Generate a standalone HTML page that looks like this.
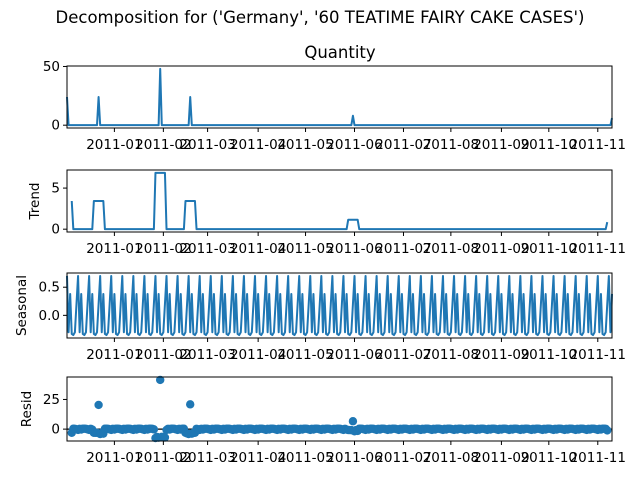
<!DOCTYPE html>
<html><head><meta charset="utf-8"><style>
body{margin:0;background:#fff}
svg text{font-family:"DejaVu Sans","Liberation Sans",sans-serif;fill:#000}
</style></head><body>
<svg id="chart" width="640" height="480" xmlns="http://www.w3.org/2000/svg">
<text x="320" y="23" font-size="16.5" text-anchor="middle">Decomposition for ('Germany', '60 TEATIME FAIRY CAKE CASES')</text>
<text x="340" y="58" font-size="16.5" text-anchor="middle">Quantity</text>
</svg>
<script>
const N = 346;
const spikeIdx = [0, 20, 59, 78, 181, 345];
const spikeVals = [24, 24, 48, 24, 8, 6];
const seasonPattern = [0.7, -0.3, 0.38, -0.33, -0.35, -0.3, 0.2];
const tickIdx = [30, 61, 89, 121, 151, 182, 213, 243, 275, 305, 336];
const tickLabels = ["2011-01","2011-02","2011-03","2011-04","2011-05","2011-06","2011-07","2011-08","2011-09","2011-10","2011-11"];
const p1Ticks = [0, 50], p2Ticks = [0, 5], p3Ticks = [0.0, 0.5], p4Ticks = [0, 25];

const svg = document.getElementById('chart');
const NS = 'http://www.w3.org/2000/svg';
const C = '#1f77b4';
const X0 = 67, X1 = 612;
function xs(i){ return X0 + i/(N-1)*(X1-X0); }

const observed = new Array(N).fill(0);
spikeIdx.forEach((k, j) => { observed[k] = spikeVals[j]; });
const seasonal = observed.map((_, i) => seasonPattern[i % 7]);
const trend = observed.map((_, i) => {
  if (i < 3 || i > N-4) return null;
  let s = 0; for (let k = i-3; k <= i+3; k++) s += observed[k]; return s/7;
});
const resid = observed.map((v, i) => trend[i] === null ? null : v - trend[i] - seasonal[i]);

function el(tag, attrs, parent){
  const e = document.createElementNS(NS, tag);
  for (const k in attrs) e.setAttribute(k, attrs[k]);
  (parent || svg).appendChild(e); return e;
}

function panel(name, top, bot, data, ticks, ylabel, lx, kind, fmt){
  const vals = data.filter(v => v !== null);
  let mn = Math.min(...vals), mx = Math.max(...vals);
  const m = (mx - mn)*0.05; mn -= m; mx += m;
  const ys = v => bot - (v - mn)/(mx - mn)*(bot - top);
  const g = el('g', {});
  
  
  if (kind === 'line') {
    let d = '';
    data.forEach((v, i) => { if (v === null) return; d += (d ? 'L' : 'M') + xs(i).toFixed(2) + ' ' + ys(v).toFixed(2); });
    const p = el('path', {d: d, fill: 'none', stroke: C, 'stroke-width': 2, 'stroke-linejoin': 'round'}, g);
    
    
  } else {
    const z = el('line', {x1: X0, x2: X1, y1: ys(0), y2: ys(0), stroke: '#000', 'stroke-width': 1.2}, g);
    
    
    data.forEach((v, i) => {
      if (v === null) return;
      const c = el('circle', {cx: xs(i), cy: ys(v), r: 4.2, fill: C}, g);
      
      
    });
  }
  const fr = el('rect', {x: X0, y: top, width: X1 - X0, height: bot - top, fill: 'none', stroke: '#000', 'stroke-width': 1}, g);
  
  
  ticks.forEach(t => {
    const y = ys(t);
    el('line', {x1: X0 - 4, x2: X0, y1: y, y2: y, stroke: '#000'}, g);
    const tx = el('text', {x: X0 - 7, y: y + 4.5, 'font-size': 13.5, 'text-anchor': 'end'}, g);
    tx.textContent = fmt(t);
    
    
  });
  tickIdx.forEach((ti, j) => {
    const x = xs(ti);
    el('line', {x1: x, x2: x, y1: bot, y2: bot + 4, stroke: '#000'}, g);
    const tx = el('text', {x: x, y: bot + 21, 'font-size': 13.5, 'text-anchor': 'middle'}, g);
    tx.textContent = tickLabels[j];
    
    
  });
  if (ylabel) {
    const cy = (top + bot)/2;
    const tx = el('text', {x: lx, y: cy, 'font-size': 13.5, 'text-anchor': 'middle', transform: 'rotate(-90 ' + lx + ' ' + cy + ')'}, g);
    tx.textContent = ylabel;
    
    
  }
}
panel('observed', 66, 128, observed, p1Ticks, null, 0, 'line', t => String(t));
panel('trend', 170, 232, trend, p2Ticks, 'Trend', 39, 'line', t => String(t));
panel('seasonal', 273, 338, seasonal, p3Ticks, 'Seasonal', 26, 'line', t => t.toFixed(1));
panel('resid', 377, 441, resid, p4Ticks, 'Resid', 31, 'scatter', t => String(t));
</script>
</body></html>
